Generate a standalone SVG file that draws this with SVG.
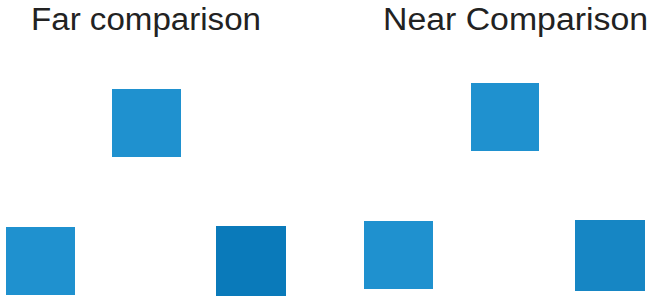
<svg xmlns="http://www.w3.org/2000/svg" width="650" height="300" viewBox="0 0 650 300">
<style>
.t{font-family:"Liberation Sans",Arial,sans-serif;font-size:31px;fill:#222}
.a{fill:#1f91cf}
.b{fill:#0a7aba}
.c{fill:#1686c4}
</style>
<rect width="650" height="300" fill="#fff"/>
<text class="t" x="31" y="29.5" textLength="230" lengthAdjust="spacingAndGlyphs">Far comparison</text>
<text class="t" x="383" y="29.5" textLength="265" lengthAdjust="spacingAndGlyphs">Near Comparison</text>
<g id="far-top"><rect class="a" x="112" y="89" width="69" height="68"/></g>
<g id="far-left"><rect class="a" x="6" y="227" width="69" height="68"/></g>
<g id="far-right"><rect class="b" x="216" y="226" width="70" height="70"/></g>
<g id="near-top"><rect class="a" x="471" y="83" width="68" height="68"/></g>
<g id="near-left"><rect class="a" x="364" y="221" width="69" height="68"/></g>
<g id="near-right"><rect class="c" x="575" y="220" width="70" height="71"/></g>
<g id="connectors"/>
</svg>
